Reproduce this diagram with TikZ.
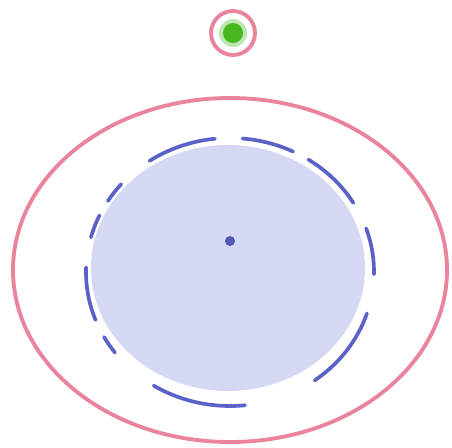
\documentclass[tikz,border=0pt]{standalone}
\usepackage{tikz}
\usetikzlibrary{positioning,calc}
\definecolor{ringPink}{HTML}{E9849C}
\definecolor{sphBlue}{HTML}{5A62C8}
\definecolor{sphFill}{HTML}{D5D8F3}
\definecolor{dotGreen}{HTML}{46B81E}

\begin{document}
\begin{tikzpicture}[
    x=0.02cm, y=-0.02cm,
    ring/.style={draw=ringPink, line width=2.2pt},
    dashring/.style={draw=sphBlue, line width=2.1pt, line cap=round},
]
% frame of the picture
\useasboundingbox (0, 0) rectangle (452, 447);

% ===== small ring with green core (top) =====
\coordinate (top) at (233, 33);
\draw[ring] (top) circle[radius=22];
\fill[dotGreen!35] (top) circle[radius=14];
\fill[dotGreen] (top) circle[radius=10];

% ===== large outer ring =====
\coordinate (outer) at (230, 270);
\draw[ring] (outer) ellipse[x radius=217, y radius=172];

% ===== filled body with broken boundary =====
\coordinate (body) at (228, 268);
\fill[sphFill] (body) ellipse[x radius=137, y radius=123];

\coordinate (rim) at (230, 272);
% dash pieces (angles measured from the east, clockwise on screen)
\foreach \a/\b in {-124/-96, -85/-64, -57/-31, -19/1, 18/54, 84/122, 143/151, 159/182, -165/-155, -148/-139}{
    \draw[dashring] ($(rim)+(\a:144 and 134)$) arc[start angle=\a, end angle=\b, x radius=144, y radius=134];
}

% centre dot
\coordinate (centre) at (230, 241);
\fill[sphBlue!90!black] (centre) circle[radius=5];

\end{tikzpicture}
\end{document}
